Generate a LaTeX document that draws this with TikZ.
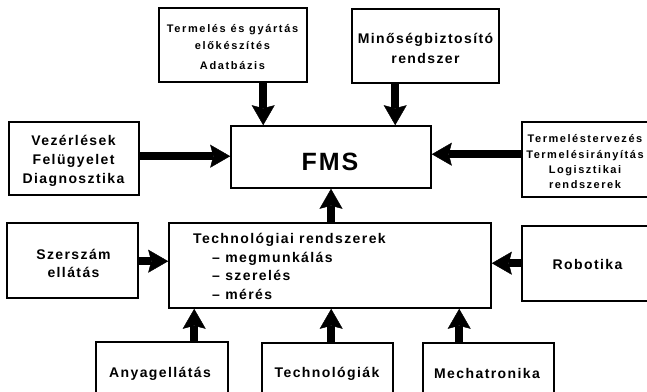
\documentclass[tikz,border=0pt]{standalone}
\usepackage{fontspec}
\setmainfont{Liberation Sans}[LetterSpace=10]
\usetikzlibrary{arrows.meta}
\tikzset{
  box/.style={draw, line width=1.6pt, rectangle, inner sep=0pt, fill=white},
  arr/.style={line width=8pt, -{Stealth[length=20pt,width=23pt,inset=3pt,line width=0.4pt]}},
  txt/.style={anchor=base, inner sep=0pt, font=\bfseries\fontsize{14}{16}\selectfont},
  txts/.style={anchor=base, inner sep=0pt, font=\bfseries\fontsize{11}{13}\selectfont\addfontfeatures{LetterSpace=15}},
  txtr/.style={anchor=base, inner sep=0pt, font=\bfseries\fontsize{11}{13}\selectfont\addfontfeatures{LetterSpace=14}},
  txtb/.style={anchor=base, inner sep=0pt, font=\bfseries\fontsize{25}{28}\selectfont\addfontfeatures{LetterSpace=8}}
}
\begin{document}
\begin{tikzpicture}[x=1pt,y=-1pt]
\useasboundingbox (0,0) rectangle (647,391);
\clip (0,0) rectangle (647,391);
% boxes
\node[box, minimum width=148pt, minimum height=74pt] (tl) at (233,45) {};
\node[box, minimum width=147pt, minimum height=74pt] (qa) at (425.5,46) {};
\node[box, minimum width=200pt, minimum height=62pt] (fms) at (331,157) {};
\node[box, minimum width=130pt, minimum height=73pt] (vez) at (74,158.5) {};
\node[box, minimum width=127pt, minimum height=75pt] (rt) at (585.5,159.5) {};
\node[box, minimum width=131pt, minimum height=75pt] (szer) at (72.5,260.5) {};
\node[box, minimum width=322pt, minimum height=85pt] (tech) at (330,265.5) {};
\node[box, minimum width=127pt, minimum height=75pt] (rob) at (585.5,263.5) {};
\node[box, minimum width=132pt, minimum height=62pt] (any) at (162,373) {};
\node[box, minimum width=131pt, minimum height=62pt] (tgi) at (327.5,374) {};
\node[box, minimum width=131pt, minimum height=62pt] (mech) at (488.5,374) {};
% texts
\node[txts] (tl1) at (232.5,32) {Termelés és gyártás};
\node[txts] (tl2) at (232.5,49) {előkészítés};
\node[txts] (tl3) at (232.5,69) {Adatbázis};
\node[txt] (qa1) at (425.5,43) {Minőségbiztosító};
\node[txt] (qa2) at (425.5,63) {rendszer};
\node[txtb] (fmst) at (330,170) {FMS};
\node[txt] (vez1) at (73.5,145.5) {Vezérlések};
\node[txt] (vez2) at (73.5,164.5) {Felügyelet};
\node[txt] (vez3) at (73.5,183.5) {Diagnosztika};
\node[txtr] (rt1) at (585,142.5) {Termeléstervezés};
\node[txtr] (rt2) at (585,158) {Termelésirányítás};
\node[txtr] (rt3) at (585,173) {Logisztikai};
\node[txtr] (rt4) at (585,188) {rendszerek};
\node[txt] (sz1) at (73.5,259) {Szerszám};
\node[txt] (sz2) at (73.5,277.5) {ellátás};
\node[txt, anchor=base west] (te1) at (193,243.3) {Technológiai rendszerek};
\node[txt, anchor=base west] (te2) at (212,262) {– megmunkálás};
\node[txt, anchor=base west] (te3) at (212,280.7) {– szerelés};
\node[txt, anchor=base west] (te4) at (212,299) {– mérés};
\node[txt] (rob1) at (587.5,269.3) {Robotika};
\node[txt] (any1) at (160,377) {Anyagellátás};
\node[txt] (tgi1) at (327,377) {Technológiák};
\node[txt] (mech1) at (487,378) {Mechatronika};
% connectors
\coordinate (a1) at ([xshift=33pt]fms.north west);
\coordinate (a2) at ([xshift=165pt]fms.north west);
\coordinate (a3) at ([yshift=-31pt]fms.north west);
\coordinate (a4) at ([yshift=-29pt]fms.north east);
\coordinate (a6) at ([yshift=-39pt]tech.north west);
\coordinate (a7) at ([yshift=-41pt]tech.north east);
\coordinate (a8) at ([xshift=26pt]tech.south west);
\coordinate (a9) at ([xshift=163pt]tech.south west);
\coordinate (a10) at ([xshift=291pt]tech.south west);
\draw[arr] (a1 |- tl.south) -- (a1);
\draw[arr] (a2 |- qa.south) -- (a2);
\draw[arr] (vez.east |- a3) -- (a3);
\draw[arr] (rt.west |- a4) -- (a4);
\draw[arr] (fms.south |- tech.north) -- (fms.south);
\draw[arr] (szer.east |- a6) -- (a6);
\draw[arr] (rob.west |- a7) -- (a7);
\draw[arr] (a8 |- any.north) -- (a8);
\draw[arr] (a9 |- tgi.north) -- (a9);
\draw[arr] (a10 |- mech.north) -- (a10);
\end{tikzpicture}
\end{document}
